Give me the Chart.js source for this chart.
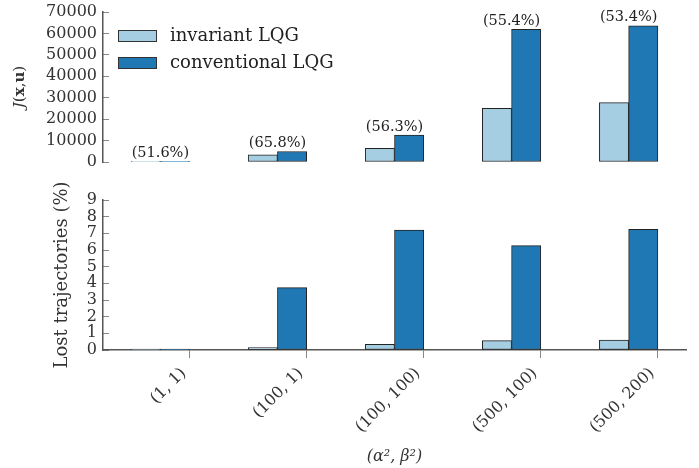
<!DOCTYPE html>
<html>
<head>
<meta charset="utf-8">
<script src="https://cdn.jsdelivr.net/npm/chart.js@4.4.0/dist/chart.umd.min.js"></script>
<style>
body { margin: 0; background: #fff; }
canvas { display: block; }
</style>
</head>
<body>
<canvas id="costChart" width="699" height="180"></canvas>
<canvas id="lostChart" width="699" height="288"></canvas>
<script>
const categories = ['(1, 1)', '(100, 1)', '(100, 100)', '(500, 100)', '(500, 200)']
const seriesNames = ['invariant LQG', 'conventional LQG']
const costInvariant = [120, 3300, 6400, 25000, 27700]
const costConventional = [120, 4900, 12600, 61900, 63600]
const costGain = ['(51.6%)', '(65.8%)', '(56.3%)', '(55.4%)', '(53.4%)']
const lostInvariant = [0.06, 0.14, 0.34, 0.56, 0.6]
const lostConventional = [0.05, 3.74, 7.2, 6.26, 7.24]
const costTicks = [0, 10000, 20000, 30000, 40000, 50000, 60000, 70000]
const lostTicks = [0, 1, 2, 3, 4, 5, 6, 7, 8, 9]

const serif = '"DejaVu Serif", serif'
const lightBlue = '#a6cee3'
const darkBlue = '#1f78b4'
const spine = '#555555'
const textColor = '#333333'

// bars sit left of each tick, like the original figure
function barData(values, offset) {
  return values.map((v, i) => ({ x: i + offset, y: v }))
}

function makeDatasets(a, b) {
  return [
    { label: seriesNames[0], data: barData(a, -0.375), backgroundColor: lightBlue },
    { label: seriesNames[1], data: barData(b, -0.125), backgroundColor: darkBlue }
  ].map(ds => Object.assign(ds, {
    grouped: false,
    barPercentage: 1,
    categoryPercentage: 1,
    borderWidth: 1,
    borderColor: '#222',
    borderSkipped: false
  }))
}

function xScale(show) {
  return {
    type: 'linear',
    min: -0.74,
    max: 4.24,
    offset: false,
    display: show,
    afterFit: (s) => {
      if (show) s.height = 118
      s.paddingLeft = 0
      s.paddingRight = 0
    },
    border: { display: true, color: spine, width: 1.5 },
    grid: { offset: false, drawOnChartArea: false, tickLength: 8, color: '#888' },
    ticks: {
      stepSize: 1,
      includeBounds: false,
      autoSkip: false,
      maxRotation: 45,
      minRotation: 45,
      padding: 6,
      labelOffset: -6,
      color: textColor,
      font: { family: serif, size: 16 },
      callback: (v) => categories[v] !== undefined ? categories[v] : ''
    },
    title: {
      display: true,
      text: '(α², β²)',
      color: textColor,
      font: { family: serif, size: 16, style: 'italic' },
      padding: { top: 4, bottom: 2 }
    }
  }
}

function yScale(tickList, title) {
  return {
    min: tickList[0],
    max: tickList[tickList.length - 1],
    afterFit: (s) => {
      s.width = 103
      s.paddingTop = 0
      s.paddingBottom = 0
    },
    border: { display: true, color: spine, width: 1.5 },
    grid: { drawOnChartArea: false, tickLength: -6, color: '#888' },
    ticks: {
      stepSize: tickList[1] - tickList[0],
      autoSkip: false,
      padding: 12,
      color: textColor,
      font: { family: serif, size: 16, lineHeight: 1 },
      callback: (v) => String(v)
    },
    title: title
  }
}

const jTitle = {
  id: 'jTitle',
  afterDraw(chart) {
    const ctx = chart.ctx
    const size = '15px '
    const parts = [
      ['J', 'italic ' + size + serif],
      ['(', size + serif],
      ['x', 'bold ' + size + serif],
      [',', size + serif],
      ['u', 'bold ' + size + serif],
      [')', size + serif]
    ]
    ctx.save()
    let total = 0
    parts.forEach(p => { ctx.font = p[1]; total += ctx.measureText(p[0]).width })
    ctx.translate(20, (chart.chartArea.top + chart.chartArea.bottom) / 2)
    ctx.rotate(-Math.PI / 2)
    ctx.fillStyle = textColor
    ctx.textBaseline = 'middle'
    let x = -total / 2
    parts.forEach(p => {
      ctx.font = p[1]
      ctx.fillText(p[0], x, 0)
      x += ctx.measureText(p[0]).width
    })
    ctx.restore()
  }
}

const boxLegend = {
  id: 'boxLegend',
  afterDraw(chart) {
    const ctx = chart.ctx
    const left = chart.chartArea.left
    const top = chart.chartArea.top
    ctx.save()
    ctx.font = '18px ' + serif
    ctx.textBaseline = 'middle'
    chart.data.datasets.forEach((ds, i) => {
      const y = top + 18 + i * 27
      ctx.fillStyle = ds.backgroundColor
      ctx.fillRect(left + 15, y, 39, 12)
      ctx.strokeStyle = '#333'
      ctx.lineWidth = 1
      ctx.strokeRect(left + 15.5, y + 0.5, 38, 11)
      ctx.fillStyle = '#222'
      ctx.fillText(ds.label, left + 67, y + 6)
    })
    ctx.restore()
  }
}

const gainLabels = {
  id: 'gainLabels',
  afterDatasetsDraw(chart) {
    const ctx = chart.ctx
    const a = chart.getDatasetMeta(0).data
    const b = chart.getDatasetMeta(1).data
    ctx.save()
    ctx.font = '14.5px ' + serif
    ctx.fillStyle = '#222'
    ctx.textAlign = 'center'
    ctx.textBaseline = 'bottom'
    costGain.forEach((t, i) => {
      const top = Math.min(a[i].y, b[i].y)
      ctx.fillText(t, (a[i].x + b[i].x) / 2, top - 1)
    })
    ctx.restore()
  }
}

const costChart = new Chart(document.getElementById('costChart'), {
  type: 'bar',
  data: { datasets: makeDatasets(costInvariant, costConventional) },
  options: {
    responsive: false,
    animation: false,
    layout: { padding: { top: 12, right: 13, bottom: 18, left: 0 } },
    plugins: { legend: { display: false }, tooltip: { enabled: false } },
    scales: {
      x: xScale(false),
      y: yScale(costTicks, { display: false })
    }
  },
  plugins: [jTitle, boxLegend, gainLabels]
})

const lostChart = new Chart(document.getElementById('lostChart'), {
  type: 'bar',
  data: { datasets: makeDatasets(lostInvariant, lostConventional) },
  options: {
    responsive: false,
    animation: false,
    layout: { padding: { top: 20, right: 13, bottom: 0, left: 0 } },
    plugins: { legend: { display: false }, tooltip: { enabled: false } },
    scales: {
      x: xScale(true),
      y: yScale(lostTicks, {
        display: true,
        text: 'Lost trajectories (%)',
        color: textColor,
        font: { family: serif, size: 18 },
        padding: { top: 52, bottom: 0 }
      })
    }
  }
})
</script>
</body>
</html>
